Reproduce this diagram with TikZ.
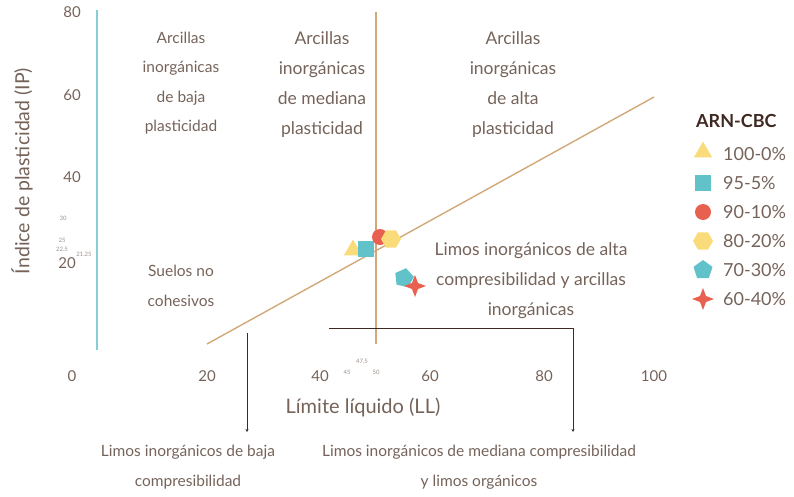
\documentclass[tikz,border=0pt]{standalone}
\usepackage{fontspec}
\setmainfont{Lato}
\usetikzlibrary{shapes.geometric,arrows.meta}

\definecolor{txtbrown}{HTML}{75635A}
\definecolor{darkbrown}{HTML}{3E2A20}
\definecolor{tanline}{HTML}{D2A878}
\definecolor{axteal}{HTML}{86CFD4}
\definecolor{mkyellow}{HTML}{FADB7A}
\definecolor{mkteal}{HTML}{62C2CA}
\definecolor{mkred}{HTML}{E8604F}

\tikzset{
  every node/.style={inner sep=0pt, text=txtbrown},
  region/.style={align=center, font=\fontsize{15.5}{29.5}\selectfont},
  regionbig/.style={align=center, font=\fontsize{17.5}{30}\selectfont},
  ticklab/.style={font=\fontsize{15}{15}\selectfont},
  tinylab/.style={font=\fontsize{6}{6}\selectfont, text=txtbrown!70},
  legtext/.style={anchor=west, font=\fontsize{18}{18}\selectfont},
  tri/.style={regular polygon, regular polygon sides=3, fill=mkyellow, minimum size=21pt},
  sqr/.style={rectangle, fill=mkteal, minimum size=16pt},
  dot/.style={circle, fill=mkred, minimum size=16pt},
  hexa/.style={regular polygon, regular polygon sides=6, fill=mkyellow, minimum size=20pt},
  penta/.style={regular polygon, regular polygon sides=5, fill=mkteal, minimum size=20pt},
  spark/.style={star, star points=4, star point ratio=2.6, fill=mkred, minimum size=22pt},
  pointer/.style={draw=darkbrown, line width=1pt, -{Stealth[length=3pt,width=3pt]}}
}

\begin{document}
\begin{tikzpicture}[x=1pt, y=1pt]
  \useasboundingbox (0,0) rectangle (794,-496);
  % axes and dividing lines
  \draw [axteal, line width=2.5pt] (97,-10) -- (97,-350);
  \draw [tanline, line width=1.4pt] (376,-12) -- (376,-344);
  \draw [tanline, line width=1.4pt] (207,-344) -- (654,-97);

  % y ticks
  \node [ticklab] (y80) at (72,-12) {80};
  \node [ticklab] (y60) at (72,-95) {60};
  \node [ticklab] (y40) at (72,-177) {40};
  \node [ticklab] (y20) at (67,-263) {20};
  \node [ticklab] (y0) at (72,-376) {0};
  \node [tinylab] (y30) at (63,-218) {30};
  \node [tinylab] (y25) at (62,-240) {25};
  \node [tinylab] (y225) at (62,-249) {22.5};
  \node [tinylab] (y2125) at (84,-254) {21.25};
  \node [rotate=90, font=\fontsize{19.5}{19.5}\selectfont] (ytitle) at (22,-171) {Índice de plasticidad (IP)};

  % x ticks
  \node [ticklab] (x20) at (207,-376) {20};
  \node [ticklab] (x40) at (320,-376) {40};
  \node [ticklab] (x60) at (430,-376) {60};
  \node [ticklab] (x80) at (544,-376) {80};
  \node [ticklab] (x100) at (654,-376) {100};
  \node [tinylab] (x45) at (347,-372) {45};
  \node [tinylab] (x475) at (362,-361) {47.5};
  \node [tinylab] (x50) at (376,-372) {50};
  \node [font=\fontsize{20}{20}\selectfont] (xtitle) at (363,-407) {Límite líquido (LL)};

  % zone labels
  \node [region] (clow) at (181,-83) {Arcillas\\inorgánicas\\de baja\\plasticidad};
  \node [regionbig] (cmid) at (322,-85) {Arcillas\\inorgánicas\\de mediana\\plasticidad};
  \node [regionbig] (chigh) at (513,-85) {Arcillas\\inorgánicas\\de alta\\plasticidad};
  \node [region] (suelos) at (181,-286) {Suelos no\\cohesivos};
  \node [regionbig] (mhigh) at (531,-281) {Limos inorgánicos de alta\\compresibilidad y arcillas\\inorgánicas};
  \node [region] (mlow) at (188,-467) {Limos inorgánicos de baja\\compresibilidad};
  \node [region] (mmid) at (479,-467) {Limos inorgánicos de mediana compresibilidad\\y limos orgánicos};

  % pointers to the silt groups
  \coordinate (ltop) at (247,-333);
  \coordinate (ltip) at (247,-432);
  \coordinate (rleft) at (329,-328);
  \coordinate (rtip) at (573,-432);
  \draw [pointer] (ltop) -- (ltip);
  \draw [pointer] (rleft) -| (rtip);

  % data points
  \node [tri] (p100) at (353,-250) {};
  \node [sqr] (p95) at (366,-249) {};
  \node [dot] (p90) at (380,-237) {};
  \node [hexa] (p80) at (391,-239) {};
  \node [penta, rotate=-12] (p70) at (404,-278) {};
  \node [spark] (p60) at (415,-286) {};

  % legend
  \node [anchor=west, text=darkbrown, font=\fontsize{18}{18}\selectfont\bfseries] (legtitle) at (696,-121) {ARN-CBC};
  \node [tri] (l100) at (703,-152) {};
  \node [legtext] (t100) at (723,-154) {100-0\%};
  \node [sqr] (l95) at (703,-183) {};
  \node [legtext] (t95) at (723,-183) {95-5\%};
  \node [dot] (l90) at (703,-212) {};
  \node [legtext] (t90) at (723,-212) {90-10\%};
  \node [hexa] (l80) at (703,-241) {};
  \node [legtext] (t80) at (723,-241) {80-20\%};
  \node [penta] (l70) at (703,-270) {};
  \node [legtext] (t70) at (723,-270) {70-30\%};
  \node [spark] (l60) at (703,-299) {};
  \node [legtext] (t60) at (723,-299) {60-40\%};
\end{tikzpicture}
\end{document}
